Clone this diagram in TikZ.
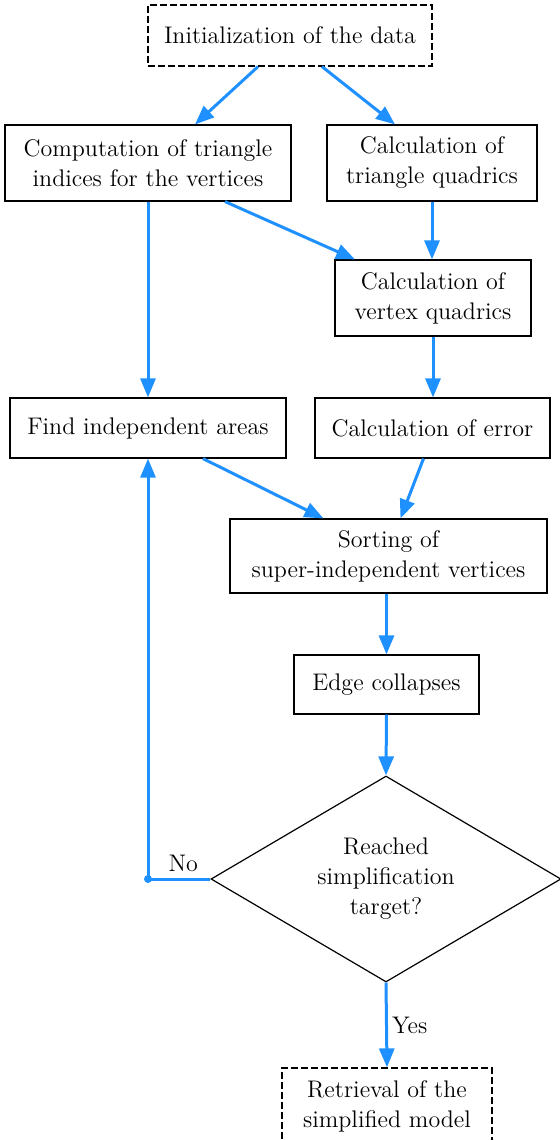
\documentclass[tikz,border=0pt]{standalone}
\usetikzlibrary{arrows.meta,calc,shapes.geometric}
\definecolor{flowblue}{RGB}{30,144,255}
\tikzset{
  block/.style={draw,rectangle,line width=0.6pt,inner sep=0pt,align=center},
  terminal/.style={block,dash pattern=on 3.3pt off 1.7pt},
  decision/.style={draw,diamond,aspect=1.7,line width=0.6pt,inner sep=0pt,align=center,
    minimum width=175pt,minimum height=103pt},
  flow/.style={-{Triangle[length=9.5pt,width=7.5pt]},line width=1.5pt,flowblue},
  junction/.style={circle,fill=flowblue,inner sep=0pt,minimum size=4pt}
}

\begin{document}
\begin{tikzpicture}[x=0.5pt,y=-0.5pt,font=\fontsize{12}{15}\selectfont]
  \useasboundingbox (0,0) rectangle (560,1140);

  \node[terminal,minimum width=142pt,minimum height=30.5pt] (init) at (290,35.5) {Initialization of the data};
  \node[block,minimum width=143pt,minimum height=38pt] (comp) at (148,163) {Computation of triangle\\indices for the vertices};
  \node[block,minimum width=105pt,minimum height=38pt] (tquad) at (432,163) {Calculation of\\triangle quadrics};
  \node[block,minimum width=98pt,minimum height=38pt] (vquad) at (433,298) {Calculation of\\vertex quadrics};
  \node[block,minimum width=138pt,minimum height=30pt] (indep) at (148,428) {Find independent areas};
  \node[block,minimum width=117.5pt,minimum height=30pt] (err) at (432.5,428) {Calculation of error};
  \node[block,minimum width=158.5pt,minimum height=37pt] (sort) at (388.5,556) {Sorting of\\super-independent vertices};
  \node[block,minimum width=92.5pt,minimum height=29.5pt] (edge) at (386.5,684.5) {Edge collapses};
  \node[decision] (target) at (386,879) {Reached\\simplification\\target?};
  \node[terminal,minimum width=105pt,minimum height=38pt] (retr) at (387,1106) {Retrieval of the\\simplified model};

  \draw[flow] ($(init.south)+(-32,0)$) -- ($(comp.north)+(47,0)$);
  \draw[flow] ($(init.south)+(32,0)$) -- ($(tquad.north)+(-37,0)$);
  \draw[flow] ($(comp.south)+(77,0)$) -- ($(vquad.north)+(-78,0)$);
  \draw[flow] (comp.south) -- (indep.north);
  \draw[flow] (tquad.south) -- (tquad.south |- vquad.north);
  \draw[flow] (vquad.south) -- (vquad.south |- err.north);
  \draw[flow] ($(indep.south)+(55,0)$) -- ($(sort.north)+(-65,0)$);
  \draw[flow] ($(err.south)+(-9,0)$) -- ($(sort.north)+(12,0)$);
  \draw[flow] (edge.north |- sort.south) -- (edge.north);
  \draw[flow] (edge.south) -- (target.north);

  % loop back when the target is not reached
  \coordinate (turn) at (indep.south |- target.west);
  \draw[flow] (target.west) -- node[above,inner sep=3pt,text=black,xshift=2pt] {No} (turn) -- (indep.south);
  \node[junction] at (turn) {};

  \draw[flow] (target.south) -- node[right,inner sep=2pt,text=black] {Yes} (retr.north);
\end{tikzpicture}
\end{document}
